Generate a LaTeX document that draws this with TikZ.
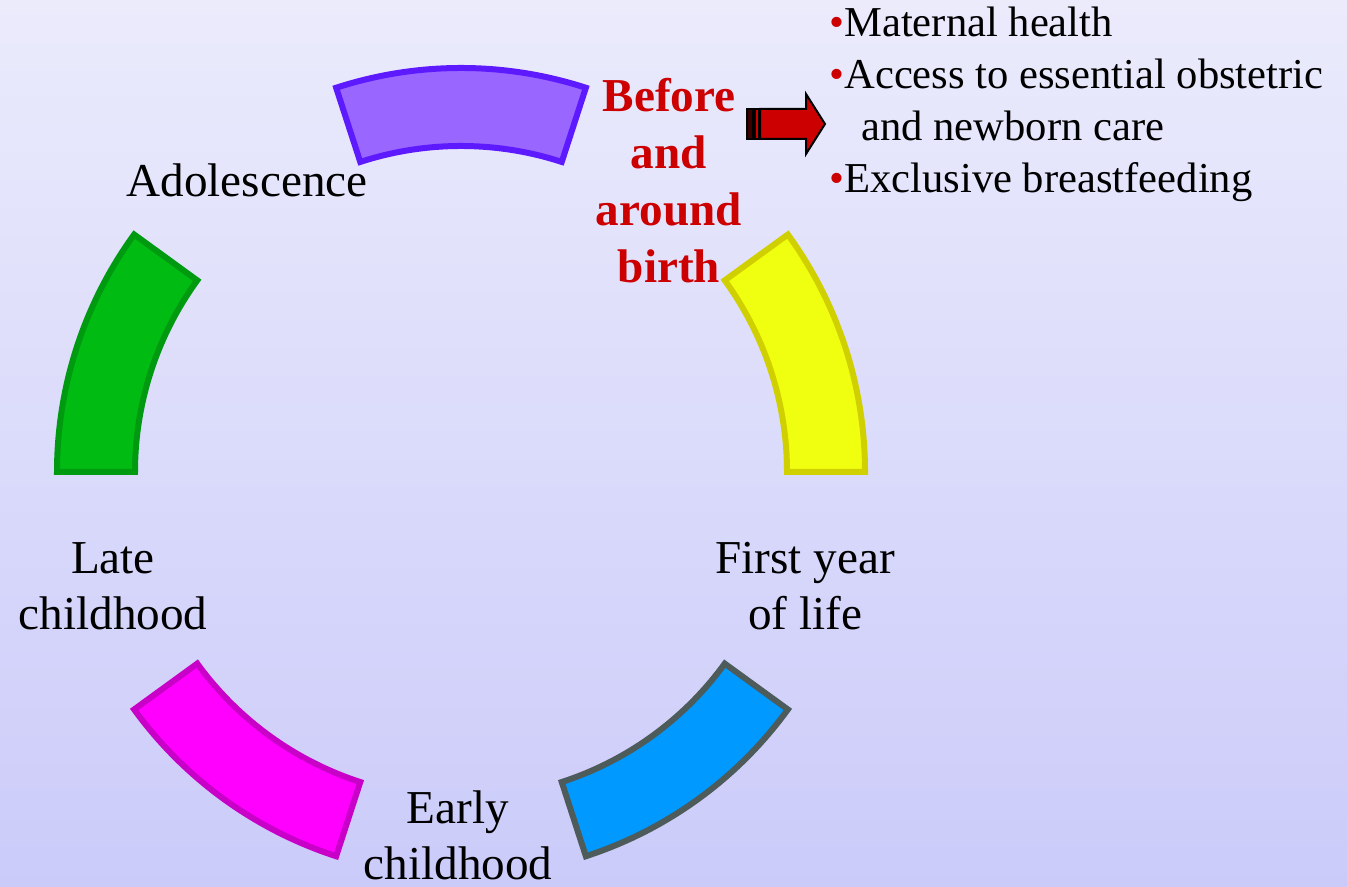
\documentclass[tikz,border=0pt]{standalone}
\usepackage{fontspec}
\setmainfont{Liberation Serif}
\usepackage{xcolor}
\usepackage{tikz}
\usetikzlibrary{positioning}

\definecolor{bgtop}{HTML}{EBEBFC}
\definecolor{bgbottom}{HTML}{CBCBFA}
\definecolor{birthred}{HTML}{CC0000}
\definecolor{arrowdark}{HTML}{3A0000}
\definecolor{segpurple}{HTML}{9966FF}
\definecolor{segpurpledark}{HTML}{5E1AFF}
\definecolor{segyellow}{HTML}{F0FF10}
\definecolor{segyellowdark}{HTML}{D0D000}
\definecolor{segblue}{HTML}{0099FF}
\definecolor{segbluedark}{HTML}{4D5B5B}
\definecolor{segmagenta}{HTML}{FF00FF}
\definecolor{segmagentadark}{HTML}{C800C8}
\definecolor{seggreen}{HTML}{00BB11}
\definecolor{seggreendark}{HTML}{009A11}

\tikzset{
  segment/.style={line width=3pt, line join=miter},
  stagetext/.style={font=\fontsize{23.6}{28}\selectfont, align=center, inner sep=0pt},
  listtext/.style={font=\fontsize{21.3}{26}\selectfont, align=left, inner sep=0pt}
}

\begin{document}
\begin{tikzpicture}[x=0.5pt, y=0.5pt]
% background
\useasboundingbox (0,0) rectangle (1347,887);
\shade[top color=bgtop, bottom color=bgbottom] (0,0) rectangle (1347,887);

% ring segments
\begin{scope}[shift={(461,415)}]
\foreach \a/\fc/\dc in {0/segyellow/segyellowdark, 72/segpurple/segpurpledark,
    144/seggreen/seggreendark, 216/segmagenta/segmagentadark, 288/segblue/segbluedark}
  \draw[segment, fill=\fc, draw=\dc] (\a:404) arc[start angle=\a, end angle=\a+36, radius=404]
    -- (\a+36:326) arc[start angle=\a+36, end angle=\a, radius=326] -- cycle;
\end{scope}

% stage names
\node[stagetext] (adolescence) at (247,707) {Adolescence};
\node[stagetext, font=\fontsize{23.6}{28.5}\selectfont\bfseries, text=birthred] (birth) at (669,706) {Before\\and\\around\\birth};
\node[stagetext] (late) at (113,301) {Late\\childhood};
\node[stagetext] (firstyear) at (805,301) {First year\\of life};
\node[stagetext] (early) at (458,52) {Early\\childhood};

% arrow
\filldraw[fill=arrowdark, draw=black, line width=0.8pt] (747,748) rectangle (753,778);
\filldraw[fill=birthred, draw=black, line width=0.8pt] (755,748) rectangle (759,778);
\filldraw[fill=birthred, draw=black, line width=1pt] (760,748) -- (806,748) -- (806,733)
  -- (825,763) -- (806,793) -- (806,778) -- (760,778) -- cycle;

% benefits
\node[listtext, anchor=north west] (benefits) at (829,880)
  {\textcolor{birthred}{•}Maternal health\\
   \textcolor{birthred}{•}Access to essential obstetric\\
   \hspace*{0.75em}and newborn care\\
   \textcolor{birthred}{•}Exclusive breastfeeding};
\end{tikzpicture}
\end{document}
